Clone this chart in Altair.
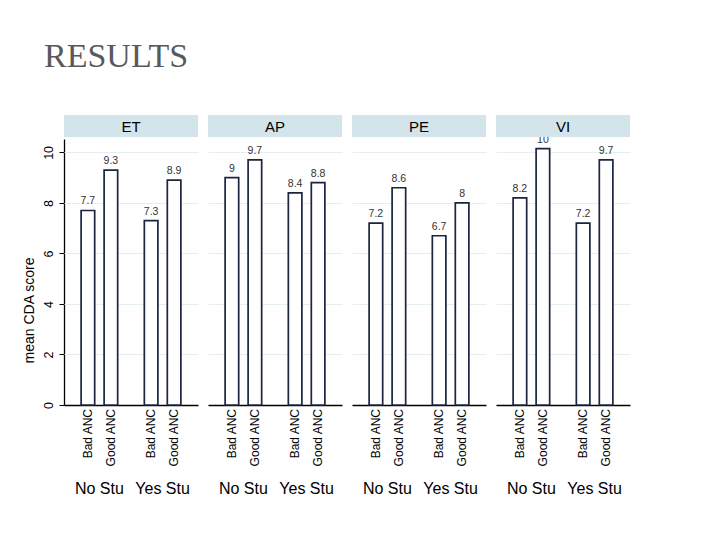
import altair as alt
import pandas as pd

panels = ["ET", "AP", "PE", "VI"]
stu_groups = ["No Stu", "No Stu", "Yes Stu", "Yes Stu"]
anc_groups = ["Bad ANC", "Good ANC", "Bad ANC", "Good ANC"]
et_scores = [7.7, 9.3, 7.3, 8.9]
ap_scores = [9.0, 9.7, 8.4, 8.8]
pe_scores = [7.2, 8.6, 6.7, 8.0]
vi_scores = [8.2, 10.15, 7.2, 9.7]
y_ticks = [0, 2, 4, 6, 8, 10]

rows = []
for p, vals in zip(panels, [et_scores, ap_scores, pe_scores, vi_scores]):
    for s, a, v in zip(stu_groups, anc_groups, vals):
        rows.append({"panel": p, "stu": s, "anc": a, "score": v})
df = pd.DataFrame(rows)

W, H = 134, 266
FONT = "Liberation Sans"

x_enc = alt.X(
    "stu:N",
    sort=["No Stu", "Yes Stu"],
    scale=alt.Scale(paddingInner=0.2, paddingOuter=0.16),
    axis=alt.Axis(title=None, labelAngle=0, labelFontSize=16, labelFont=FONT,
                  labelColor="black", labelPadding=75, ticks=False, tickSize=0,
                  domain=True, domainColor="black", domainWidth=1.3, domainOpacity=1,
                  grid=False, labelBaseline="top"),
)
xoff_enc = alt.XOffset(
    "anc:N",
    sort=["Bad ANC", "Good ANC"],
    scale=alt.Scale(paddingInner=0.41, paddingOuter=0.305),
)
y_enc = alt.Y(
    "score:Q",
    scale=alt.Scale(domain=[0, 10.53], nice=False, zero=True),
    axis=alt.Axis(values=y_ticks, title="mean CDA score", titleFont=FONT,
                  titleFontSize=14, titleFontWeight="normal", titleColor="black",
                  titleAngle=270, titleX=-31, titleY=171, titleAlign="center",
                  titleBaseline="alphabetic",
                  labelAngle=270, labelAlign="center", labelBaseline="bottom",
                  labelFontSize=12.5, labelFont=FONT, labelColor="black",
                  labelPadding=4, tickSize=5, tickColor="black",
                  domain=True, domainColor="black", domainWidth=1.3, domainOpacity=1,
                  grid=True, gridColor="#e4edf0", gridWidth=1,
                  gridOpacity=alt.condition("datum.value === 0", alt.value(0), alt.value(1))),
)

bars = alt.Chart().mark_bar(fill="white", stroke="#1b2440", strokeWidth=1.7).encode(
    x=x_enc, xOffset=xoff_enc, y=y_enc
)
values_txt = alt.Chart().mark_text(
    baseline="alphabetic", dy=-6, fontSize=10.5, font=FONT, color="#333333"
).encode(x=x_enc, xOffset=xoff_enc, y=y_enc,
         text=alt.Text("score:Q", format=".2~r"))
anc_txt = alt.Chart().mark_text(
    angle=270, align="right", baseline="middle", fontSize=12, font=FONT, color="black"
).encode(x=x_enc, xOffset=xoff_enc, y=alt.value(H + 4), text="anc:N")
header_rect = alt.Chart().mark_rect(fill="#d4e4eb").encode(
    x=alt.value(0), x2=alt.value(W), y=alt.value(-24), y2=alt.value(-2)
)
header_txt = alt.Chart().mark_text(
    fontSize=15, font=FONT, color="black", baseline="middle"
).encode(x=alt.value(W / 2), y=alt.value(-12), text="panel:N").transform_filter(
    "datum.stu == 'No Stu' && datum.anc == 'Bad ANC'"
)

chart = alt.layer(
    bars, values_txt, anc_txt, header_rect, header_txt, data=df
).properties(width=W, height=H).facet(
    column=alt.Column("panel:N", sort=panels, header=alt.Header(labels=False, title=None)),
    spacing=10,
).properties(
    bounds="flush",
    title=alt.TitleParams("RESULTS", font="Liberation Serif", fontSize=34,
                          fontWeight="normal", color="#595959", anchor="start",
                          offset=41, dx=22),
    padding={"left": 14, "top": 32, "right": 5, "bottom": 5},
).configure(background="white").configure_view(stroke="transparent", strokeWidth=0)

chart.save("out.html", embed_options={"renderer": "svg", "actions": False})
